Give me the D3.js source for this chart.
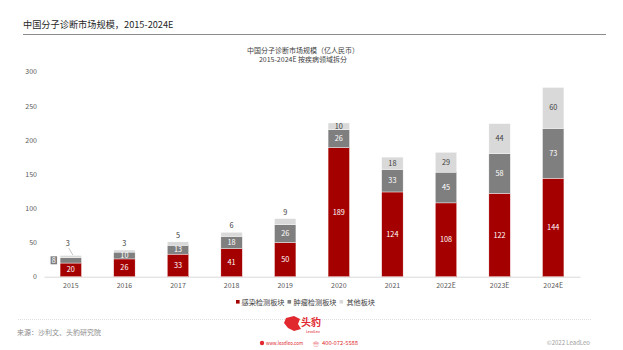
<!DOCTYPE html>
<html><head><meta charset="utf-8">
<script src="https://cdn.jsdelivr.net/npm/d3@7"></script>
<style>
html,body{margin:0;padding:0;background:#fff;}
svg{display:block;font-family:"Noto Sans CJK SC","Noto Sans",sans-serif;}
</style></head>
<body><svg id="c" width="623" height="350"></svg>
<script>
const categories = ["2015","2016","2017","2018","2019","2020","2021","2022E","2023E","2024E"];
const infection = [20,26,33,41,50,189,124,108,122,144];
const oncology  = [8,10,13,18,26,26,33,45,58,73];
const other     = [3,3,5,6,9,10,18,29,44,60];
const yTicks = [0,50,100,150,200,250,300];
const seriesNames = ["感染检测板块","肿瘤检测板块","其他板块"];
const colors = ["#A50000","#7F7F7F","#D9D9D9"];
const labelColors = ["#fff","#fff","#404040"];

const svg = d3.select("#c");
const x = d3.scaleBand().domain(categories).range([44,580]).paddingInner(0.6).paddingOuter(0.3);
const y = d3.scaleLinear().domain([0,300]).range([276.7,71.7]);

// title
svg.append("text").attr("x",23).attr("y",27.5).attr("font-size",9.2).attr("fill","#262626").text("中国分子诊断市场规模，2015-2024E");
svg.append("line").attr("x1",23).attr("x2",606).attr("y1",34.5).attr("y2",34.5).attr("stroke","#8c8c8c").attr("stroke-width",1);

// subtitle
svg.append("text").attr("x",303).attr("y",52.5).attr("text-anchor","middle").attr("font-size",7).attr("fill","#404040").text("中国分子诊断市场规模（亿人民币）");
svg.append("text").attr("x",303).attr("y",61.5).attr("text-anchor","middle").attr("font-size",7).attr("fill","#404040").text("2015-2024E 按疾病领域拆分");

// y axis
const yAxis = d3.axisLeft(y).tickValues(yTicks).tickSize(0).tickPadding(4);
const gy = svg.append("g").attr("transform","translate(41,0)").call(yAxis);
gy.select(".domain").remove();
gy.selectAll("text").attr("font-size",7).attr("fill","#595959").attr("font-family","'Noto Sans CJK SC',sans-serif");

// x axis
const xAxis = d3.axisBottom(x).tickSize(0).tickPadding(6);
const gx = svg.append("g").attr("transform",`translate(0,${y(0)})`).call(xAxis);
gx.select(".domain").attr("stroke","#d0d0d0").attr("stroke-width",0.8);
gx.selectAll("text").attr("font-size",7).attr("fill","#595959").attr("font-family","'Noto Sans CJK SC',sans-serif");

// stacked data
const rows = categories.map((c,i)=>({cat:c, s0:infection[i], s1:oncology[i], s2:other[i]}));
const stack = d3.stack().keys(["s0","s1","s2"])(rows);

stack.forEach((layer,k)=>{
  const g = svg.append("g");
  g.selectAll("rect").data(layer).join("rect")
    .attr("x",d=>x(d.data.cat))
    .attr("width",x.bandwidth())
    .attr("y",d=>y(d[1]))
    .attr("height",d=>y(d[0])-y(d[1]))
    .attr("fill",colors[k])
    .attr("stroke","#fff").attr("stroke-width",0.4);
});

// labels
stack.forEach((layer,k)=>{
  layer.forEach(d=>{
    const v = d[1]-d[0];
    const h = y(d[0])-y(d[1]);
    const cx = x(d.data.cat)+x.bandwidth()/2;
    if (h >= 6.5) {
      svg.append("text").attr("x",cx).attr("y",(y(d[0])+y(d[1]))/2+2.5)
        .attr("text-anchor","middle").attr("font-size",7.3).attr("fill",labelColors[k]).text(v);
    } else if (k===2) {
      if (d.data.cat===categories[0]) {
        const lx = cx-3, ly = y(d[1])-10;
        svg.append("text").attr("x",lx).attr("y",ly).attr("text-anchor","middle").attr("font-size",7.3).attr("fill","#404040").text(v);
        svg.append("line").attr("x1",lx+1).attr("y1",ly+2.5).attr("x2",cx+2).attr("y2",y(d[1])-0.5).attr("stroke","#a0a0a0").attr("stroke-width",0.6);
      } else {
        svg.append("text").attr("x",cx).attr("y",y(d[1])-4).attr("text-anchor","middle").attr("font-size",7.3).attr("fill","#404040").text(v);
      }
    } else {
      const bx = x(d.data.cat)-9.5, by = (y(d[0])+y(d[1]))/2;
      svg.append("rect").attr("x",bx).attr("y",by-4).attr("width",6.5).attr("height",8).attr("fill",colors[k]);
      svg.append("text").attr("x",bx+3.25).attr("y",by+2.5).attr("text-anchor","middle").attr("font-size",7.3).attr("fill","#fff").text(v);
    }
  });
});

// legend
const legendSq = [236,287.5,339.5];
const legendTx = [241.5,293.5,346.5];
const legendW = [43,43,28.5];
seriesNames.forEach((n,k)=>{
  svg.append("rect").attr("x",legendSq[k]).attr("y",300).attr("width",3.6).attr("height",3.6).attr("fill",colors[k]);
  svg.append("text").attr("x",legendTx[k]).attr("y",304.5).attr("font-size",7)
    .attr("textLength",legendW[k]).attr("lengthAdjust","spacingAndGlyphs").attr("fill","#404040").text(n);
});

// footer
svg.append("line").attr("x1",18).attr("x2",592).attr("y1",319.5).attr("y2",319.5).attr("stroke","#c8c8c8").attr("stroke-width",0.6).attr("stroke-dasharray","1,1");
svg.append("text").attr("x",17).attr("y",334.5).attr("font-size",7).attr("fill","#8c8c8c").text("来源：沙利文、头豹研究院");
// logo
svg.append("path").attr("d","M286,318 l8,-2 l6,3 l-2,5 l3,5 l-7,2 l-6,-3 l-4,-5 z").attr("fill","#E0282E");
svg.append("text").attr("x",301).attr("y",326).attr("font-size",10).attr("font-weight","bold").attr("fill","#E0282E").text("头豹");
svg.append("text").attr("x",306).attr("y",332.5).attr("font-size",3.5).attr("fill","#E0282E").text("LeadLeo");
svg.append("circle").attr("cx",262).attr("cy",343).attr("r",2.2).attr("fill","#E0282E");
svg.append("text").attr("x",266).attr("y",345).attr("font-size",5.5).attr("textLength",37).attr("lengthAdjust","spacingAndGlyphs").attr("fill","#E0282E").text("www.leadleo.com");
svg.append("text").attr("x",313).attr("y",345.5).attr("font-size",6).attr("fill","#E0282E").text("☏");
svg.append("text").attr("x",322).attr("y",345).attr("font-size",5.5).attr("textLength",36).attr("lengthAdjust","spacingAndGlyphs").attr("fill","#E0282E").text("400-072-5588");
svg.append("text").attr("x",590).attr("y",345).attr("text-anchor","end").attr("font-size",6).attr("fill","#a0a0a0").text("©2022 LeadLeo");
</script></body></html>
